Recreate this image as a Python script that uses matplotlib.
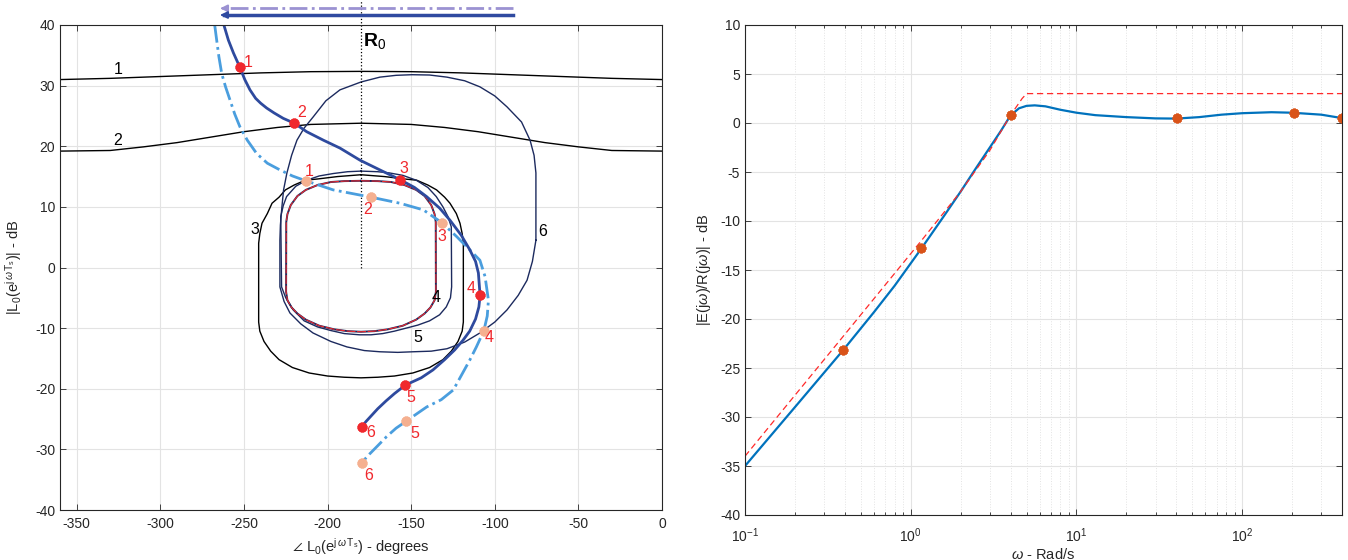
import matplotlib
matplotlib.use("Agg")
import matplotlib.pyplot as plt

plt.rcParams['font.family'] = ['Liberation Sans', 'DejaVu Sans']
plt.rcParams['mathtext.fontset'] = 'custom'
plt.rcParams['mathtext.rm'] = 'Liberation Sans'
plt.rcParams['mathtext.it'] = 'Liberation Sans:italic'
plt.rcParams['mathtext.bf'] = 'Liberation Sans:bold'
plt.rcParams['mathtext.fallback'] = 'stixsans'
plt.rcParams['axes.unicode_minus'] = False

# ---- Nichols plane: closed-loop contours (phase in deg, gain in dB) ----
c1_deg = [-360, -330, -300, -270, -240, -210, -180, -150, -120, -90, -60, -30, 0]
c1_db = [31.0, 31.2, 31.5, 31.8, 32.1, 32.3, 32.35, 32.3, 32.1, 31.8, 31.5, 31.2, 31.0]

c2_deg = [-360, -330, -310, -290, -270, -250, -230, -210, -180,
          -150, -130, -110, -90, -70, -50, -30, 0]
c2_db = [19.2, 19.3, 19.9, 20.6, 21.5, 22.4, 23.1, 23.6, 23.8,
         23.6, 23.1, 22.4, 21.5, 20.6, 19.9, 19.3, 19.2]

c3_deg = [-180, -166, -154, -146.7, -140, -134.8, -130, -126.8, -123, -120.8, -119.5, -118.8,
          -118.8, -119.5, -122, -126, -131, -139, -149, -160, -170, -180,
          -190, -200, -211, -221, -229, -234, -238, -240.5, -241.2,
          -241.2, -240.5, -239.2, -236, -233.2, -229, -225.2, -220, -213.3, -206, -194, -180]
c3_db = [15.3, 15.0, 14.6, 14.4, 13.6, 12.8, 11.6, 10.6, 8.9, 7.3, 5.6, 4.0,
         -9.0, -10.5, -12.2, -13.8, -15.2, -16.5, -17.4, -17.9, -18.1, -18.2,
         -18.1, -17.9, -17.4, -16.5, -15.2, -13.8, -12.2, -10.5, -9.0,
         4.0, 5.6, 7.3, 8.9, 10.6, 11.6, 12.8, 13.6, 14.4, 14.6, 15.0, 15.3]

c4_deg = [-180, -170, -162, -154, -147, -142, -138, -136, -135.3, -135.2, -136, -138.5, -142,
          -147, -155, -164, -172, -180, -188, -196, -205, -213, -218, -221.5, -224,
          -224.8, -224.7, -224, -222, -218, -213, -206, -198, -190, -180]
c4_db = [14.3, 14.25, 14.1, 13.6, 12.8, 11.8, 10.3, 8.8, 7.5, -4.0, -5.4, -6.6, -7.6,
         -8.6, -9.6, -10.2, -10.5, -10.6, -10.5, -10.2, -9.6, -8.6, -7.6, -6.6, -5.4,
         -4.0, 7.5, 8.8, 10.3, 11.8, 12.8, 13.6, 14.1, 14.25, 14.3]

c5_deg = [-180, -170, -163, -155, -147, -140, -135, -131, -128, -126, -125.8, -126.5, -129,
          -133, -139, -146, -153, -160, -167, -174, -181, -190, -198, -206, -214,
          -220.5, -225, -227.5, -228, -226.5, -224.5, -219, -212.5, -205, -196.6, -188, -180]
c5_db = [15.9, 15.8, 15.6, 15.2, 14.4, 13.2, 11.7, 10.0, 8.4, 6.7, -3.2, -5.0, -6.5,
         -7.8, -8.8, -9.5, -10.0, -10.5, -10.9, -11.1, -11.1, -10.9, -10.4, -9.8, -8.8,
         -7.0, -5.0, -3.2, 8.4, 10.2, 11.7, 13.4, 14.4, 15.1, 15.5, 15.8, 15.9]

c6_deg = [-75.4, -75.4, -76.5, -78.9, -84, -92.7, -100, -108.9, -118, -128.6, -139, -149.5,
          -159, -168.7, -180, -192.6, -201, -208.7, -214, -218.3, -221.5, -224.3, -226.3,
          -227.3, -228.2, -228.5, -228.5, -226, -222.5, -216, -208.7, -198, -188.4, -178,
          -168.7, -158, -148.9, -138, -128.6, -118, -108.9, -100, -92.7, -86, -80.7, -77.5,
          -75.4]
c6_db = [4.5, 15.6, 18.5, 21.0, 24.0, 26.5, 28.3, 29.8, 30.8, 31.4, 31.75, 31.8,
         31.7, 31.4, 30.6, 29.3, 27.5, 24.8, 23.0, 21.0, 18.5, 15.6, 12.8,
         10.0, 7.0, 4.5, -3.2, -5.6, -7.5, -9.3, -10.8, -12.2, -13.1, -13.7,
         -13.9, -14.0, -13.9, -13.8, -13.4, -12.3, -10.8, -9.0, -7.0, -4.6, -2.1, 1.0,
         4.5]

contour_labels = ['1', '2', '3', '4', '5', '6']
contour_label_deg = [-325.4, -325.4, -243.4, -135.2, -146.0, -71.2]
contour_label_db = [32.6, 21.0, 6.2, -5.0, -11.5, 5.9]

# ---- open-loop frequency responses ----
l_deg = [-262, -259.3, -256.3, -252.4, -249.5, -246.4, -243, -240, -236.4, -232, -226.5,
         -219.9, -212.5, -202.5, -192.6, -180.6, -168, -156.7, -148, -140.8, -133, -126.8,
         -120, -114.9, -111.5, -109.8, -108.8, -109.5, -111.5, -115, -119, -124, -130, -137,
         -144, -153.5, -160, -165, -170, -174, -177, -179.6]
l_db = [40, 37.5, 35.4, 33.0, 31.0, 29.3, 27.9, 27.1, 26.3, 25.5, 24.6,
        23.8, 22.4, 21.0, 19.7, 17.7, 16.0, 14.5, 13.2, 11.7, 9.8, 7.8,
        5.3, 2.9, 1.0, -0.9, -4.6, -6.5, -8.5, -10.5, -12.0, -13.6, -15.2, -16.9,
        -18.2, -19.4, -20.8, -22.0, -23.3, -24.5, -25.4, -26.3]

ld_deg = [-267.5, -266.3, -265, -263.3, -261, -258.3, -255.5, -252.4, -248, -242.4, -236,
          -228.5, -221, -213, -196.6, -174, -156.7, -142.7, -131.7, -122.8, -114.9, -108.9,
          -105.8, -103.8, -104.5, -106.5, -111, -115, -120, -124.8, -132, -140.7, -147,
          -153.2, -159, -164.7, -170, -175, -179.6]
ld_db = [40, 37.5, 34.8, 32.0, 29.8, 27.6, 25.3, 23.2, 21.0, 18.8, 17.2,
         16.1, 15.1, 14.3, 12.8, 11.6, 10.6, 9.5, 7.4, 5.1, 2.9, 1.2,
         -1.5, -5.4, -8.0, -10.4, -13.1, -15.3, -17.8, -20.2, -21.8, -23.0, -24.2,
         -25.4, -26.5, -27.9, -29.4, -30.8, -32.2]

pt_labels = ['1', '2', '3', '4', '5', '6']
l_pt_deg = [-252.4, -219.9, -156.7, -108.8, -153.5, -179.6]
l_pt_db = [33.0, 23.8, 14.5, -4.6, -19.4, -26.3]
ld_pt_deg = [-213.0, -174.0, -131.7, -106.5, -153.2, -179.6]
ld_pt_db = [14.3, 11.6, 7.4, -10.4, -25.4, -32.2]
# label offsets in pixels (right, down)
l_pt_off = [(8, -5), (7, -11), (4, -11), (-9, -7), (5, 12), (9, 6)]
ld_pt_off = [(3, -9), (-3, 12), (0, 14), (5, 7), (9, 12), (7, 13)]

# direction arrows above the chart
arrow_tail_deg = -89.4
arrow_head_deg = -265.9
arrow_db = [42.75, 41.65]

# ---- error transfer function |E/R| ----
w = [0.1, 0.2, 0.39, 0.6, 0.8, 1.16, 1.6, 2.0, 2.5, 3.0, 3.5, 4.0, 4.5, 5.0, 5.6,
     6.5, 8.0, 10, 13, 20, 30, 40, 55, 75, 100, 150, 200, 300, 400]
e_db = [-35.0, -29.0, -23.2, -19.3, -16.6, -12.8, -9.4, -7.0, -4.5, -2.5, -0.8, 0.77, 1.5,
        1.75, 1.8, 1.7, 1.35, 1.05, 0.8, 0.6, 0.47, 0.45, 0.6, 0.85, 1.0, 1.1, 1.05, 0.85, 0.5]
w_bound = [0.1, 0.39, 1.16, 2.0, 3.0, 4.0, 4.4, 4.7, 5.0, 400]
bound_db = [-34.0, -21.8, -12.0, -7.0, -2.8, 0.8, 1.8, 2.5, 3.0, 3.0]
w_pts = [0.39, 1.16, 4.0, 40.6, 204, 400]
e_pts = [-23.2, -12.8, 0.77, 0.5, 1.04, 0.5]

navy = '#1c2a5e'
blue_solid = '#2e4a9e'
blue_dash = '#4a9ede'
red = '#f0282d'
peach = '#f5b090'
grid_c = '#e3e3e3'
axis_c = '#262626'

fig = plt.figure(figsize=(13.48, 5.6), dpi=100)
ax1 = fig.add_axes([60 / 1348, 50 / 560, 602 / 1348, 485 / 560])
ax2 = fig.add_axes([745 / 1348, 45 / 560, 597 / 1348, 490 / 560])

for ax in (ax1, ax2):
    ax.tick_params(which='both', direction='in', top=True, right=True,
                   colors=axis_c, labelsize=10, width=0.6)
    ax.tick_params(which='major', length=4)
    ax.tick_params(which='minor', length=2.5)
    for s in ax.spines.values():
        s.set_color(axis_c)
        s.set_linewidth(0.8)
    ax.set_axisbelow(True)

# ---- left: Nichols chart ----
ax1.grid(True, color=grid_c, lw=0.8)
ax1.plot(c1_deg, c1_db, color='k', lw=1)
ax1.plot(c2_deg, c2_db, color='k', lw=1)
ax1.plot(c3_deg, c3_db, color='k', lw=1)
ax1.plot(c6_deg, c6_db, color=navy, lw=1)
ax1.plot(c5_deg, c5_db, color=navy, lw=1)
ax1.plot(c4_deg, c4_db, color=navy, lw=1.4)
ax1.plot(c4_deg, c4_db, color=red, lw=0.8, dashes=(8, 1.5))
for lab, x, y in zip(contour_labels, contour_label_deg, contour_label_db):
    ax1.text(x, y, lab, fontsize=11.5, ha='center', va='center', color='k')

ax1.plot([-180, -180], [0, 44.1], ls=':', color='k', lw=0.9, clip_on=False)
ax1.text(-179, 37.3, r'$\mathbf{R}_0$', fontsize=14, ha='left', va='center')

ax1.plot(ld_deg, ld_db, color=blue_dash, lw=2, ls='-.')
ax1.plot(l_deg, l_db, color=blue_solid, lw=2)
ax1.plot(ld_pt_deg, ld_pt_db, ls='none', marker=(8, 2, 0), ms=7, mew=2.5, color=peach)
ax1.plot(l_pt_deg, l_pt_db, ls='none', marker=(8, 2, 0), ms=7, mew=2.5, color=red)
for lab, x, y, off in zip(pt_labels, l_pt_deg, l_pt_db, l_pt_off):
    ax1.annotate(lab, (x, y), xytext=(off[0] * 0.72, -off[1] * 0.72),
                 textcoords='offset points', ha='center', va='center',
                 fontsize=11.5, color=red)
for lab, x, y, off in zip(pt_labels, ld_pt_deg, ld_pt_db, ld_pt_off):
    ax1.annotate(lab, (x, y), xytext=(off[0] * 0.72, -off[1] * 0.72),
                 textcoords='offset points', ha='center', va='center',
                 fontsize=11.5, color=red)

# arrows over the plot area
ax1.plot([arrow_tail_deg, arrow_head_deg + 4], [arrow_db[0]] * 2, color='#9b92d2',
         lw=2, ls='-.', clip_on=False)
ax1.annotate('', xy=(arrow_head_deg, arrow_db[0]), xytext=(arrow_head_deg + 6, arrow_db[0]),
             arrowprops=dict(arrowstyle='-|>', color='#9b92d2', lw=1.5, mutation_scale=10),
             annotation_clip=False)
ax1.plot([arrow_tail_deg, arrow_head_deg + 4], [arrow_db[1]] * 2, color='#2f4aa0',
         lw=2.5, clip_on=False)
ax1.annotate('', xy=(arrow_head_deg, arrow_db[1]), xytext=(arrow_head_deg + 6, arrow_db[1]),
             arrowprops=dict(arrowstyle='-|>', color='#2f4aa0', lw=1.5, mutation_scale=10),
             annotation_clip=False)

ax1.set_xlim(-360, 0)
ax1.set_ylim(-40, 40)
ax1.set_xticks(range(-350, 1, 50))
ax1.set_yticks(range(-40, 41, 10))
ax1.tick_params(axis='x', pad=5)
ax1.set_xlabel(r'$\angle$ L$_0$(e$^{\mathrm{j}\,\omega\,\mathrm{T}_\mathrm{s}}$) - degrees',
               fontsize=10.5, color=axis_c, labelpad=4)
ax1.set_ylabel(r'|L$_0$(e$^{\mathrm{j}\,\omega\,\mathrm{T}_\mathrm{s}}$)| - dB',
               fontsize=10.5, color=axis_c, labelpad=8)

# ---- right: error magnitude ----
ax2.semilogx(w, e_db, color='#0072BD', lw=1.6)
ax2.semilogx(w_bound, bound_db, color='#ff2a2a', lw=0.9, dashes=(5, 3))
ax2.plot(w_pts, e_pts, ls='none', marker=(8, 2, 0), ms=7, mew=2, color='#D95319')
ax2.set_xlim(0.1, 400)
ax2.set_ylim(-40, 10)
ax2.set_yticks(range(-40, 11, 5))
ax2.tick_params(axis='x', pad=8)
ax2.grid(True, which='major', color=grid_c, lw=0.8)
ax2.grid(True, which='minor', color=grid_c, lw=0.7, ls=':')
ax2.set_xlabel(r'$\omega$ - Rad/s', fontsize=10.5, color=axis_c, labelpad=2)
ax2.set_ylabel(r'|E(j$\omega$)/R(j$\omega$)| - dB', fontsize=10.5, color=axis_c, labelpad=5)

fig.savefig('out.png', dpi=100)
